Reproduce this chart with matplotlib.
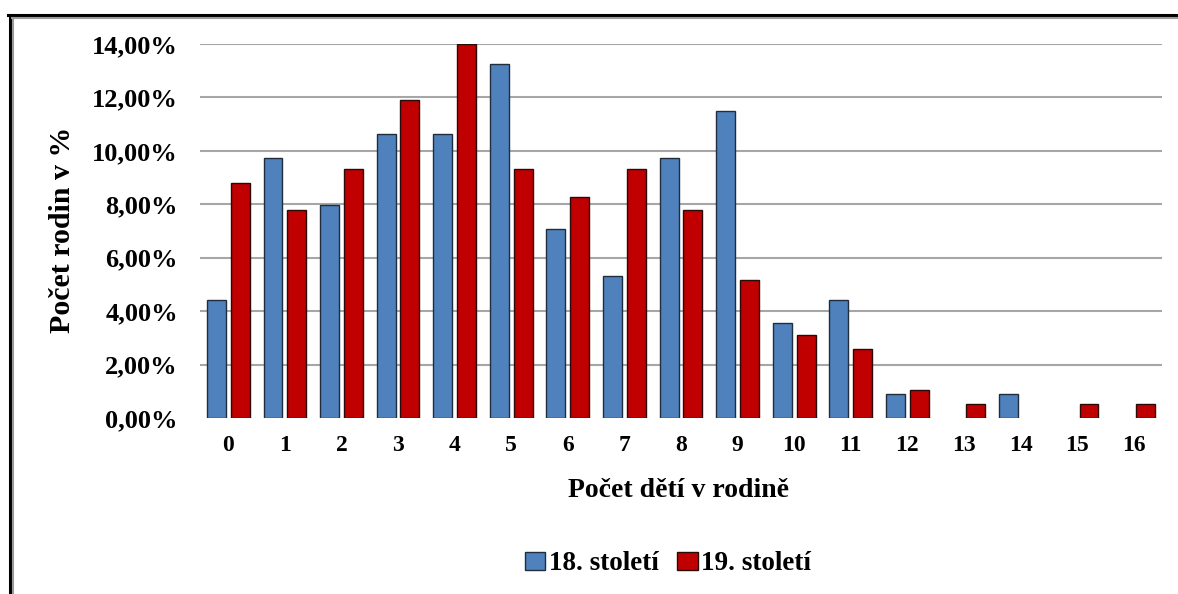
import numpy as np
import matplotlib.pyplot as plt
from matplotlib.lines import Line2D
from matplotlib.patches import Patch

# Počet dětí v rodině (0..16)
children = [str(i) for i in range(17)]
# podíl rodin v % podle století
stol_18 = [4.42, 9.73, 7.96, 10.62, 10.62, 13.27, 7.08, 5.31, 9.73, 11.50,
           3.54, 4.42, 0.88, 0.00, 0.88, 0.00, 0.00]
stol_19 = [8.81, 7.77, 9.33, 11.92, 13.99, 9.33, 8.29, 9.33, 7.77, 5.18,
           3.11, 2.59, 1.04, 0.52, 0.00, 0.52, 0.52]
y_ticks = [0, 2, 4, 6, 8, 10, 12, 14]
y_tick_labels = ['0,00%', '2,00%', '4,00%', '6,00%', '8,00%', '10,00%', '12,00%', '14,00%']
series_names = ['18. století', '19. století']

W, H = 1178, 594
blue = '#4F81BD'
red = '#C00000'
blue_edge = '#1f2d3d'
red_edge = '#2a0a0a'

plt.rcParams['font.family'] = ['Liberation Serif', 'DejaVu Serif']
plt.rcParams['font.weight'] = 'bold'

fig = plt.figure(figsize=(W / 100, H / 100), dpi=100)
ax = fig.add_axes([200 / W, 1 - 418 / H, 962 / W, 374 / H])

x = np.arange(len(children))
bw = 0.335
off = 0.21
# nulové sloupce bez obrysu
lw18 = [1.0 if v > 0 else 0 for v in stol_18]
lw19 = [1.0 if v > 0 else 0 for v in stol_19]
ax.bar(x - off, stol_18, bw, color=blue, edgecolor=blue_edge, linewidth=lw18, zorder=3)
ax.bar(x + off, stol_19, bw, color=red, edgecolor=red_edge, linewidth=lw19, zorder=3)

ax.set_xlim(-0.5, len(children) - 0.5)
ax.set_ylim(0, 14)
ax.set_yticks(y_ticks)
ax.set_yticklabels(y_tick_labels)
ax.set_xticks(x)
ax.set_xticklabels(children)
ax.tick_params(axis='both', length=0)
ax.tick_params(axis='y', pad=16, labelsize=19)
ax.tick_params(axis='x', pad=12, labelsize=17)

for t in y_ticks[1:]:
    ax.axhline(t, color='#a6a6a6', linewidth=1.5, zorder=1)
for s in ax.spines.values():
    s.set_visible(False)

ax.set_xlabel('Počet dětí v rodině', fontsize=20, fontweight='bold')
ax.set_ylabel('Počet rodin v %', fontsize=21.5, fontweight='bold')
ax.yaxis.set_label_coords(-(200 - 76) / 962, (418 - 230) / 374)
ax.xaxis.set_label_coords((679 - 200) / 962, -(478 - 418) / 374)

handles = [Patch(facecolor=blue, edgecolor=blue_edge, linewidth=1.0),
           Patch(facecolor=red, edgecolor=red_edge, linewidth=1.0)]
fig.legend(handles, series_names, loc='center', bbox_to_anchor=(668 / W, 1 - 564 / H),
           ncol=2, frameon=False, fontsize=19.5, handlelength=0.75, handleheight=0.65,
           handletextpad=0.12, columnspacing=0.7, borderpad=0)

# rámeček obrázku
fig.add_artist(Line2D([8 / W, 1], [1 - 15 / H, 1 - 15 / H], color='black', linewidth=2.2))
fig.add_artist(Line2D([9.5 / W, 9.5 / W], [0, 1 - 15 / H], color='black', linewidth=2.2))
fig.add_artist(Line2D([12 / W, 1], [1 - 18 / H, 1 - 18 / H], color='#9a9a9a', linewidth=1.5))
fig.add_artist(Line2D([12.5 / W, 12.5 / W], [0, 1 - 18 / H], color='#9a9a9a', linewidth=1.5))

fig.savefig('out.png', dpi=100)
